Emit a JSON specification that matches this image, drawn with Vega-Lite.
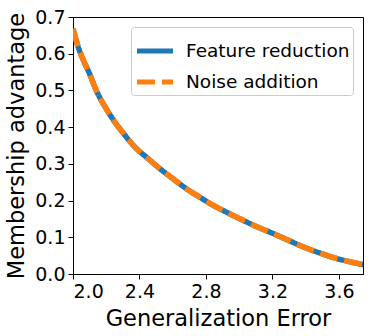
{
  "$schema": "https://vega.github.io/schema/vega-lite/v6.json",
  "width": 290,
  "height": 257,
  "autosize": {"type": "none"},
  "padding": {"left": 73, "top": 17, "right": 11, "bottom": 62},
  "config": {
    "font": "DejaVu Sans",
    "view": {"stroke": "black", "strokeWidth": 1},
    "axis": {
      "grid": false,
      "domainColor": "black",
      "tickColor": "black",
      "labelColor": "black",
      "titleColor": "black",
      "labelFont": "DejaVu Sans",
      "titleFont": "DejaVu Sans",
      "labelFontSize": 19,
      "titleFontSize": 22.5,
      "titleFontWeight": "normal",
      "tickSize": 5,
      "labelPadding": 3
    }
  },
  "data": {
    "values": [
      {"x": 2.00, "y": 0.668, "method": "Feature reduction"},
      {"x": 2.03, "y": 0.620, "method": "Feature reduction"},
      {"x": 2.06, "y": 0.585, "method": "Feature reduction"},
      {"x": 2.10, "y": 0.545, "method": "Feature reduction"},
      {"x": 2.14, "y": 0.500, "method": "Feature reduction"},
      {"x": 2.20, "y": 0.450, "method": "Feature reduction"},
      {"x": 2.25, "y": 0.415, "method": "Feature reduction"},
      {"x": 2.30, "y": 0.385, "method": "Feature reduction"},
      {"x": 2.37, "y": 0.347, "method": "Feature reduction"},
      {"x": 2.45, "y": 0.315, "method": "Feature reduction"},
      {"x": 2.52, "y": 0.288, "method": "Feature reduction"},
      {"x": 2.60, "y": 0.260, "method": "Feature reduction"},
      {"x": 2.68, "y": 0.233, "method": "Feature reduction"},
      {"x": 2.76, "y": 0.210, "method": "Feature reduction"},
      {"x": 2.84, "y": 0.188, "method": "Feature reduction"},
      {"x": 2.93, "y": 0.167, "method": "Feature reduction"},
      {"x": 3.02, "y": 0.147, "method": "Feature reduction"},
      {"x": 3.11, "y": 0.128, "method": "Feature reduction"},
      {"x": 3.20, "y": 0.111, "method": "Feature reduction"},
      {"x": 3.29, "y": 0.093, "method": "Feature reduction"},
      {"x": 3.38, "y": 0.075, "method": "Feature reduction"},
      {"x": 3.48, "y": 0.058, "method": "Feature reduction"},
      {"x": 3.58, "y": 0.043, "method": "Feature reduction"},
      {"x": 3.66, "y": 0.034, "method": "Feature reduction"},
      {"x": 3.75, "y": 0.025, "method": "Feature reduction"},
      {"x": 2.00, "y": 0.668, "method": "Noise addition"},
      {"x": 2.03, "y": 0.620, "method": "Noise addition"},
      {"x": 2.06, "y": 0.585, "method": "Noise addition"},
      {"x": 2.10, "y": 0.545, "method": "Noise addition"},
      {"x": 2.14, "y": 0.500, "method": "Noise addition"},
      {"x": 2.20, "y": 0.450, "method": "Noise addition"},
      {"x": 2.25, "y": 0.415, "method": "Noise addition"},
      {"x": 2.30, "y": 0.385, "method": "Noise addition"},
      {"x": 2.37, "y": 0.347, "method": "Noise addition"},
      {"x": 2.45, "y": 0.315, "method": "Noise addition"},
      {"x": 2.52, "y": 0.288, "method": "Noise addition"},
      {"x": 2.60, "y": 0.260, "method": "Noise addition"},
      {"x": 2.68, "y": 0.233, "method": "Noise addition"},
      {"x": 2.76, "y": 0.210, "method": "Noise addition"},
      {"x": 2.84, "y": 0.188, "method": "Noise addition"},
      {"x": 2.93, "y": 0.167, "method": "Noise addition"},
      {"x": 3.02, "y": 0.147, "method": "Noise addition"},
      {"x": 3.11, "y": 0.128, "method": "Noise addition"},
      {"x": 3.20, "y": 0.111, "method": "Noise addition"},
      {"x": 3.29, "y": 0.093, "method": "Noise addition"},
      {"x": 3.38, "y": 0.075, "method": "Noise addition"},
      {"x": 3.48, "y": 0.058, "method": "Noise addition"},
      {"x": 3.58, "y": 0.043, "method": "Noise addition"},
      {"x": 3.66, "y": 0.034, "method": "Noise addition"},
      {"x": 3.75, "y": 0.025, "method": "Noise addition"}
    ]
  },
  "mark": {"type": "line", "strokeWidth": 5.5, "interpolate": "monotone", "clip": true},
  "encoding": {
    "x": {
      "field": "x",
      "type": "quantitative",
      "title": "Generalization Error",
      "scale": {"domain": [2.0, 3.745], "nice": false, "zero": false},
      "axis": {"values": [2.0, 2.4, 2.8, 3.2, 3.6], "format": ".1f", "titlePadding": 6}
    },
    "y": {
      "field": "y",
      "type": "quantitative",
      "title": "Membership advantage",
      "scale": {"domain": [0, 0.7], "nice": false},
      "axis": {"values": [0, 0.1, 0.2, 0.3, 0.4, 0.5, 0.6, 0.7], "format": ".1f", "titlePadding": 6}
    },
    "color": {
      "field": "method",
      "type": "nominal",
      "scale": {"domain": ["Feature reduction", "Noise addition"], "range": ["#1f77b4", "#ff7f0e"]},
      "legend": {
        "title": null,
        "orient": "top-right",
        "offset": 10,
        "fillColor": "white",
        "strokeColor": "#cccccc",
        "cornerRadius": 3,
        "padding": 3,
        "symbolType": "stroke",
        "symbolSize": 1300,
        "symbolStrokeWidth": 5,
        "labelFontSize": 18.5,
        "labelLimit": 300,
        "labelColor": "black",
        "labelOffset": 10,
        "rowPadding": -22
      }
    },
    "strokeDash": {
      "field": "method",
      "type": "nominal",
      "scale": {"domain": ["Feature reduction", "Noise addition"], "range": [[1, 0], [18, 7]]},
      "legend": null
    }
  }
}
